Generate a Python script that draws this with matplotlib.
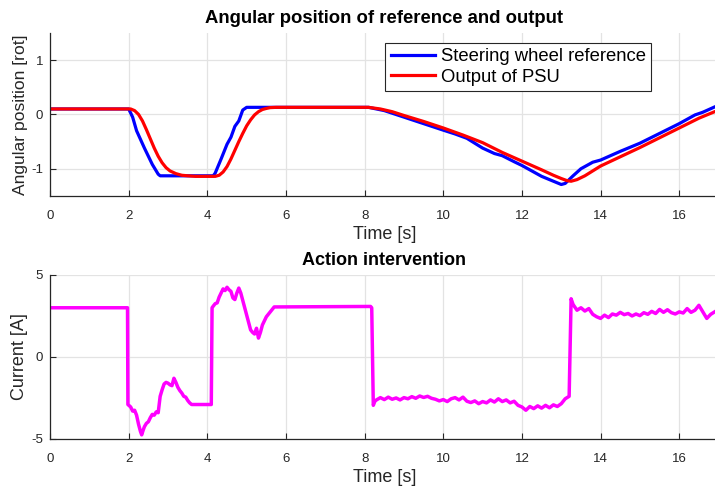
import matplotlib
matplotlib.use("Agg")
import matplotlib.pyplot as plt

plt.rcParams['font.family'] = ['Liberation Sans', 'DejaVu Sans']
plt.rcParams['axes.unicode_minus'] = False

# top plot: steering wheel reference
ref_t = [0, 2.0, 2.1, 2.2, 2.4, 2.6, 2.75, 2.8, 3.5, 4.15, 4.2, 4.35, 4.5, 4.6, 4.7, 4.8, 4.9, 5.0,
         8.1, 8.5, 9.0, 9.5, 10.0, 10.3, 10.6, 11.0, 11.3, 11.5, 11.8, 12.0, 12.3, 12.5, 12.8,
         13.0, 13.1, 13.3, 13.5, 13.8, 14.0, 14.5, 15.0, 15.5, 16.0, 16.4, 16.6, 17.0]
ref_pos = [0.1, 0.1, -0.05, -0.3, -0.62, -0.92, -1.1, -1.13, -1.13, -1.13, -1.08, -0.82, -0.55, -0.42,
           -0.22, -0.12, 0.08, 0.13,
           0.13, 0.07, -0.05, -0.17, -0.29, -0.36, -0.44, -0.62, -0.72, -0.76, -0.87, -0.94, -1.06,
           -1.14, -1.23, -1.29, -1.27, -1.13, -1.0, -0.88, -0.84, -0.68, -0.53, -0.35, -0.17, -0.01,
           0.04, 0.17]

# top plot: output of PSU
psu_t = [0, 2.05, 2.15, 2.25, 2.35, 2.45, 2.55, 2.65, 2.75, 2.85, 2.95, 3.05, 3.2, 3.35, 3.5, 3.7,
         4.2, 4.3, 4.4, 4.5, 4.6, 4.7, 4.8, 4.9, 5.0, 5.1, 5.2, 5.3, 5.4, 5.5, 5.6, 5.75,
         8.1, 8.4, 8.7, 9.0, 9.5, 10.0, 10.5, 11.0, 11.5, 12.0, 12.5, 12.8, 13.0, 13.15,
         13.25, 13.4, 13.6, 14.0, 14.5, 15.0, 15.5, 16.0, 16.5, 17.0]
psu_pos = [0.1, 0.1, 0.07, 0.0, -0.12, -0.28, -0.45, -0.62, -0.77, -0.89, -0.98, -1.04, -1.09, -1.12,
           -1.13, -1.14,
           -1.14, -1.12, -1.06, -0.96, -0.82, -0.66, -0.5, -0.35, -0.21, -0.1, -0.01, 0.05, 0.09, 0.11,
           0.125, 0.13,
           0.13, 0.1, 0.05, -0.02, -0.13, -0.25, -0.38, -0.52, -0.7, -0.86, -1.02, -1.12, -1.18,
           -1.22, -1.23, -1.2, -1.13, -0.95, -0.78, -0.61, -0.43, -0.25, -0.07, 0.08]

# bottom plot: current of the action intervention
cur_t = [0, 1.97, 1.98, 2.05, 2.1, 2.15, 2.2, 2.25, 2.3, 2.33, 2.37, 2.4, 2.45, 2.5, 2.55, 2.6,
         2.65, 2.7, 2.75, 2.8, 2.85, 2.9, 2.95, 3.0, 3.05, 3.1, 3.15, 3.2, 3.25, 3.3, 3.35, 3.4,
         3.45, 3.5, 3.55, 3.6, 4.1, 4.12, 4.15, 4.2, 4.25, 4.3, 4.35, 4.4, 4.45, 4.5, 4.55, 4.6,
         4.65, 4.7, 4.75, 4.8, 4.85, 4.9, 4.95, 5.0, 5.05, 5.1, 5.15, 5.2, 5.25, 5.3, 5.35, 5.4,
         5.45, 5.5, 5.55, 5.6, 5.65, 5.7, 8.15, 8.18, 8.22, 8.26,
         8.3, 8.4, 8.5, 8.6, 8.7, 8.8, 8.9, 9.0, 9.1, 9.2, 9.3, 9.4, 9.5, 9.6, 9.7, 9.8, 9.9,
         10.0, 10.1, 10.2, 10.3, 10.4, 10.5, 10.6, 10.7, 10.8, 10.9, 11.0, 11.1, 11.2, 11.3, 11.4,
         11.5, 11.6, 11.7, 11.8, 11.9, 12.0, 12.1, 12.2, 12.3, 12.4, 12.5, 12.6, 12.7, 12.8, 12.9,
         13.0, 13.1, 13.2, 13.25,
         13.3, 13.4, 13.5, 13.6, 13.7, 13.8, 13.9, 14.0, 14.1, 14.2, 14.3, 14.4, 14.5, 14.6, 14.7,
         14.8, 14.9, 15.0, 15.1, 15.2, 15.3, 15.4, 15.5, 15.6, 15.7, 15.8, 15.9, 16.0, 16.1, 16.2,
         16.3, 16.4, 16.5, 16.6, 16.7, 16.8, 16.9, 17.0]
cur_a = [3.0, 3.0, -2.9, -3.05, -3.3, -3.25, -3.55, -4.1, -4.55, -4.75, -4.45, -4.25, -4.05, -3.95,
         -3.7, -3.5, -3.55, -3.35, -3.4, -2.4, -2.0, -1.65, -1.55, -1.6, -1.7, -1.75, -1.3, -1.55,
         -1.85, -2.05, -2.2, -2.4, -2.45, -2.65, -2.8, -2.9, -2.9, 3.0, 3.1, 3.25, 3.3, 3.65, 3.9,
         4.15, 4.05, 4.25, 4.1, 4.0, 3.6, 3.5, 3.9, 4.2, 3.9, 3.45, 3.0, 2.55, 2.1, 1.65, 1.5,
         1.4, 1.75, 1.15, 1.5, 1.95, 2.2, 2.45, 2.6, 2.75, 2.9, 3.05, 3.08, 3.0, -2.95, -2.7,
         -2.62, -2.48, -2.6, -2.45, -2.58, -2.5, -2.62, -2.48, -2.55, -2.42, -2.52, -2.38, -2.47,
         -2.4, -2.52, -2.58, -2.68, -2.6, -2.72, -2.55, -2.48, -2.62, -2.45, -2.7, -2.78, -2.68,
         -2.85, -2.72, -2.8, -2.62, -2.75, -2.55, -2.72, -2.62, -2.8, -2.7, -2.95, -3.05, -3.25,
         -3.02, -3.15, -2.98, -3.12, -2.95, -3.1, -2.92, -3.02, -2.85, -2.55, -2.4, 3.55,
         3.2, 2.85, 3.0, 2.8, 2.95, 2.6, 2.45, 2.35, 2.55, 2.4, 2.62, 2.55, 2.72, 2.58, 2.65,
         2.5, 2.62, 2.52, 2.7, 2.6, 2.78, 2.65, 2.9, 2.72, 2.88, 2.7, 2.62, 2.75, 2.68, 2.95,
         2.72, 2.85, 3.15, 2.75, 2.35, 2.6, 2.75, 2.9]

x_ticks = [0, 2, 4, 6, 8, 10, 12, 14, 16]


def style_axes(ax):
    ax.set_xlim(0, 17)
    ax.set_xticks(x_ticks)
    ax.grid(True, color='#e3e3e3', linewidth=0.9)
    ax.set_axisbelow(True)
    ax.spines['top'].set_visible(False)
    ax.spines['right'].set_visible(False)
    for s in ['left', 'bottom']:
        ax.spines[s].set_color('#262626')
        ax.spines[s].set_linewidth(0.9)
    ax.tick_params(direction='in', length=4, width=0.8, colors='#262626', labelsize=9.5)
    ax.tick_params(axis='x', pad=10)
    ax.tick_params(axis='y', pad=5)
    ax.set_xlabel('Time [s]', fontsize=13, color='#262626', labelpad=3)


fig = plt.figure(figsize=(7.15, 4.91), dpi=100)
ax1 = fig.add_axes([0.07, 0.601, 0.935, 0.332])
ax2 = fig.add_axes([0.07, 0.106, 0.935, 0.334])

ax1.plot(ref_t, ref_pos, color='#0000ff', linewidth=2.3, label='Steering wheel reference')
ax1.plot(psu_t, psu_pos, color='#ff0000', linewidth=2.3, label='Output of PSU')
style_axes(ax1)
ax1.set_ylim(-1.5, 1.5)
ax1.set_yticks([-1, 0, 1])
ax1.set_ylabel('Angular position [rot]', fontsize=12.6, color='#262626', labelpad=2)
ax1.set_title('Angular position of reference and output', fontsize=13.3, fontweight='bold', pad=7)
leg = ax1.legend(loc='upper right', bbox_to_anchor=(0.899, 0.94), fontsize=13.3, fancybox=False,
                 edgecolor='#262626', framealpha=1, handlelength=2.4, borderpad=0.3,
                 labelspacing=0.2, handletextpad=0.3, borderaxespad=0)
leg.get_frame().set_linewidth(0.8)

ax2.plot(cur_t, cur_a, color='#ff00ff', linewidth=2.5)
style_axes(ax2)
ax2.set_ylim(-5, 5)
ax2.set_yticks([-5, 0, 5])
ax2.set_ylabel('Current [A]', fontsize=13, color='#262626', labelpad=2)
ax2.set_title('Action intervention', fontsize=13, fontweight='bold', pad=7)

fig.savefig('out.png', dpi=100)
